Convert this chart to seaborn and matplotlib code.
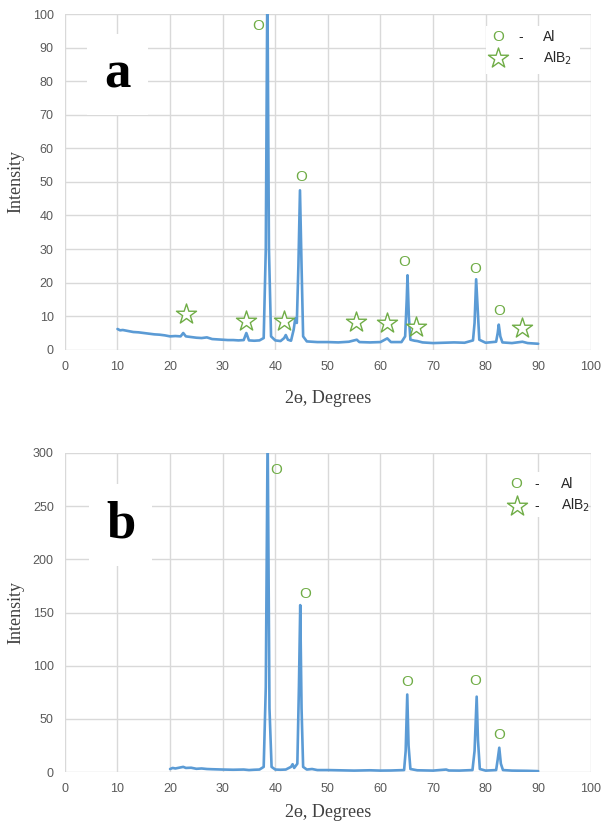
import matplotlib
matplotlib.use("Agg")
import matplotlib.pyplot as plt
from matplotlib.patches import Rectangle
import pandas as pd
import seaborn as sns

# XRD pattern (a): points
a_theta = [10.0, 10.5, 11, 12, 13, 14, 15, 16, 17, 18, 19, 20, 21, 22, 22.5, 23, 24, 25, 26, 27,
           28, 29, 30, 31, 32, 33, 34, 34.5, 35, 36, 37, 37.8, 38.2, 38.5, 38.8, 39.2, 40, 41,
           41.7, 42, 42.4, 43, 43.5, 43.8, 44.1, 44.4, 44.7, 45.0, 45.3, 46, 47, 48, 50, 52, 54,
           55.5, 56, 58, 60, 61.3, 62, 64, 64.7, 65.0, 65.15, 65.4, 65.7, 66.5, 67, 68, 70, 72,
           74, 76, 77.6, 77.9, 78.2, 78.5, 78.8, 80, 82.0, 82.3, 82.5, 82.8, 83.2, 85, 87, 88, 90]
a_int = [6.2, 5.8, 5.9, 5.6, 5.3, 5.2, 5.0, 4.8, 4.6, 4.5, 4.3, 4.0, 4.1, 4.0, 5.0, 4.0, 3.8, 3.6,
         3.5, 3.7, 3.2, 3.1, 3.0, 2.9, 2.9, 2.8, 2.9, 5.0, 2.8, 2.7, 2.8, 3.5, 30, 110, 30, 4, 2.8,
         2.6, 3.5, 4.4, 3.0, 2.7, 6, 9.3, 8.0, 25, 47.5, 25, 4, 2.5, 2.4, 2.3, 2.3, 2.2, 2.4,
         3.0, 2.3, 2.2, 2.3, 3.4, 2.3, 2.3, 4, 15, 22.2, 10, 3, 2.7, 2.6, 2.2, 2.0, 2.1,
         2.2, 2.1, 2.8, 8, 21, 12, 3, 2.1, 2.4, 5, 7.5, 4, 2.2, 2.0, 2.4, 2.0, 1.8]

# XRD pattern (b)
b_theta = [20, 20.5, 21, 22, 22.5, 23, 24, 25, 26, 27, 28, 30, 32, 34, 35, 36, 37, 37.8, 38.2,
           38.55, 38.9, 39.3, 40, 41, 42, 43, 43.3, 43.6, 44.2, 44.5, 44.75, 45.0, 45.3, 46, 47,
           48, 50, 52, 55, 58, 60, 62, 64.5, 64.8, 65.1, 65.35, 65.7, 67, 70, 72.5, 73, 75, 77.5,
           77.9, 78.3, 78.55, 78.9, 80, 82, 82.3, 82.6, 82.9, 83.3, 85, 88, 90]
b_int = [3, 4, 3.5, 4.5, 5, 4, 4.2, 3.2, 3.5, 3, 2.8, 2.5, 2.3, 2.5, 2, 2.3, 2.5, 5, 80,
         320, 60, 5, 2.5, 2.3, 2.5, 5, 7.5, 4, 8, 80, 157, 60, 5, 2.5, 3,
         2, 2, 1.8, 1.5, 1.8, 1.5, 1.6, 2, 20, 73, 25, 3, 1.8, 1.5, 2.5, 1.6, 1.5, 2,
         20, 71, 30, 3, 1.5, 2, 12, 23, 8, 2, 1.5, 1.3, 1]

# phase markers
a_al_x = [36.7, 44.9, 64.5, 78.0, 82.5]
a_al_y = [96.4, 51.6, 26.1, 24.0, 11.5]
a_alb2_x = [23.1, 34.4, 41.7, 55.3, 61.3, 66.7, 87.0]
a_alb2_y = [10.8, 8.6, 8.6, 8.4, 8.1, 6.9, 6.4]
b_al_x = [40.1, 45.6, 65.0, 78.0, 82.5]
b_al_y = [284, 167, 85, 86, 35]

x_ticks = list(range(0, 101, 10))
a_y_ticks = list(range(0, 101, 10))
b_y_ticks = list(range(0, 301, 50))

BLUE = "#5B9BD5"
GREEN = "#70AD47"
GRID = "#D9D9D9"
TICK = "#595959"

sns.set_theme(style="whitegrid")
plt.rcParams["font.family"] = ["Liberation Sans", "DejaVu Sans"]
SERIF = ["Liberation Serif", "DejaVu Serif"]

fig = plt.figure(figsize=(6.01, 8.25), dpi=100)
ax_a = fig.add_axes([0.108, 0.576, 0.875, 0.407])
ax_b = fig.add_axes([0.108, 0.064, 0.875, 0.387])


def style_axes(ax, yticks, xlabelpad):
    ax.set_xlim(0, 100)
    ax.set_ylim(yticks[0], yticks[-1])
    ax.set_xticks(x_ticks)
    ax.set_yticks(yticks)
    ax.grid(True, color=GRID, linewidth=1)
    for s in ax.spines.values():
        s.set_visible(False)
    ax.tick_params(axis="both", colors=TICK, labelsize=9, length=0, pad=8)
    ax.set_xlabel("2ө, Degrees", family=SERIF, fontsize=13, color="#404040", labelpad=xlabelpad)
    ax.set_ylabel("Intensity", family=SERIF, fontsize=13, color="#404040", labelpad=6)


def add_legend(ax, xc, yc, xdash, xlab, box):
    ax.add_patch(Rectangle(box[:2], box[2], box[3], transform=ax.transAxes,
                           facecolor="white", edgecolor="none", zorder=4))
    ax.text(xc, yc[0], "O", transform=ax.transAxes, color=GREEN, fontsize=11,
            ha="center", va="center", zorder=5)
    ax.scatter([xc], [yc[1]], transform=ax.transAxes, marker="*", s=230,
               facecolors="white", edgecolors=GREEN, linewidths=1, zorder=5, clip_on=False)
    for yy, lab in zip(yc, ["Al", "AlB$_2$"]):
        ax.text(xdash, yy, "-", transform=ax.transAxes, fontsize=10, color="#262626",
                ha="center", va="center", zorder=5)
        ax.text(xlab, yy, lab, transform=ax.transAxes, fontsize=10, color="#262626",
                ha="left", va="center", zorder=5)


# panel a
df_a = pd.DataFrame({"theta": a_theta, "intensity": a_int})
sns.lineplot(data=df_a, x="theta", y="intensity", ax=ax_a, color=BLUE, linewidth=1.9,
             sort=False, estimator=None)
style_axes(ax_a, a_y_ticks, 12)
for x, y in zip(a_al_x, a_al_y):
    ax_a.text(x, y, "O", color=GREEN, fontsize=11, ha="center", va="center", zorder=5)
ax_a.scatter(a_alb2_x, a_alb2_y, marker="*", s=230, facecolors="white",
             edgecolors=GREEN, linewidths=1, zorder=5)
ax_a.text(0.10, 0.82, "a", transform=ax_a.transAxes, family=SERIF, fontweight="bold",
          fontsize=38, ha="center", va="center", zorder=5, color="black",
          bbox=dict(facecolor="white", edgecolor="none", pad=12))
add_legend(ax_a, 0.823, (0.932, 0.869), 0.866, 0.909, (0.80, 0.82, 0.18, 0.145))

# panel b
df_b = pd.DataFrame({"theta": b_theta, "intensity": b_int})
sns.lineplot(data=df_b, x="theta", y="intensity", ax=ax_b, color=BLUE, linewidth=1.9,
             sort=False, estimator=None)
style_axes(ax_b, b_y_ticks, 6)
for x, y in zip(b_al_x, b_al_y):
    ax_b.text(x, y, "O", color=GREEN, fontsize=11, ha="center", va="center", zorder=5)
ax_b.text(0.106, 0.775, "b", transform=ax_b.transAxes, family=SERIF, fontweight="bold",
          fontsize=38, ha="center", va="center", zorder=5, color="black",
          bbox=dict(facecolor="white", edgecolor="none", pad=12))
add_legend(ax_b, 0.859, (0.904, 0.835), 0.897, 0.944, (0.84, 0.80, 0.15, 0.14))

fig.savefig("out.png", dpi=100)
